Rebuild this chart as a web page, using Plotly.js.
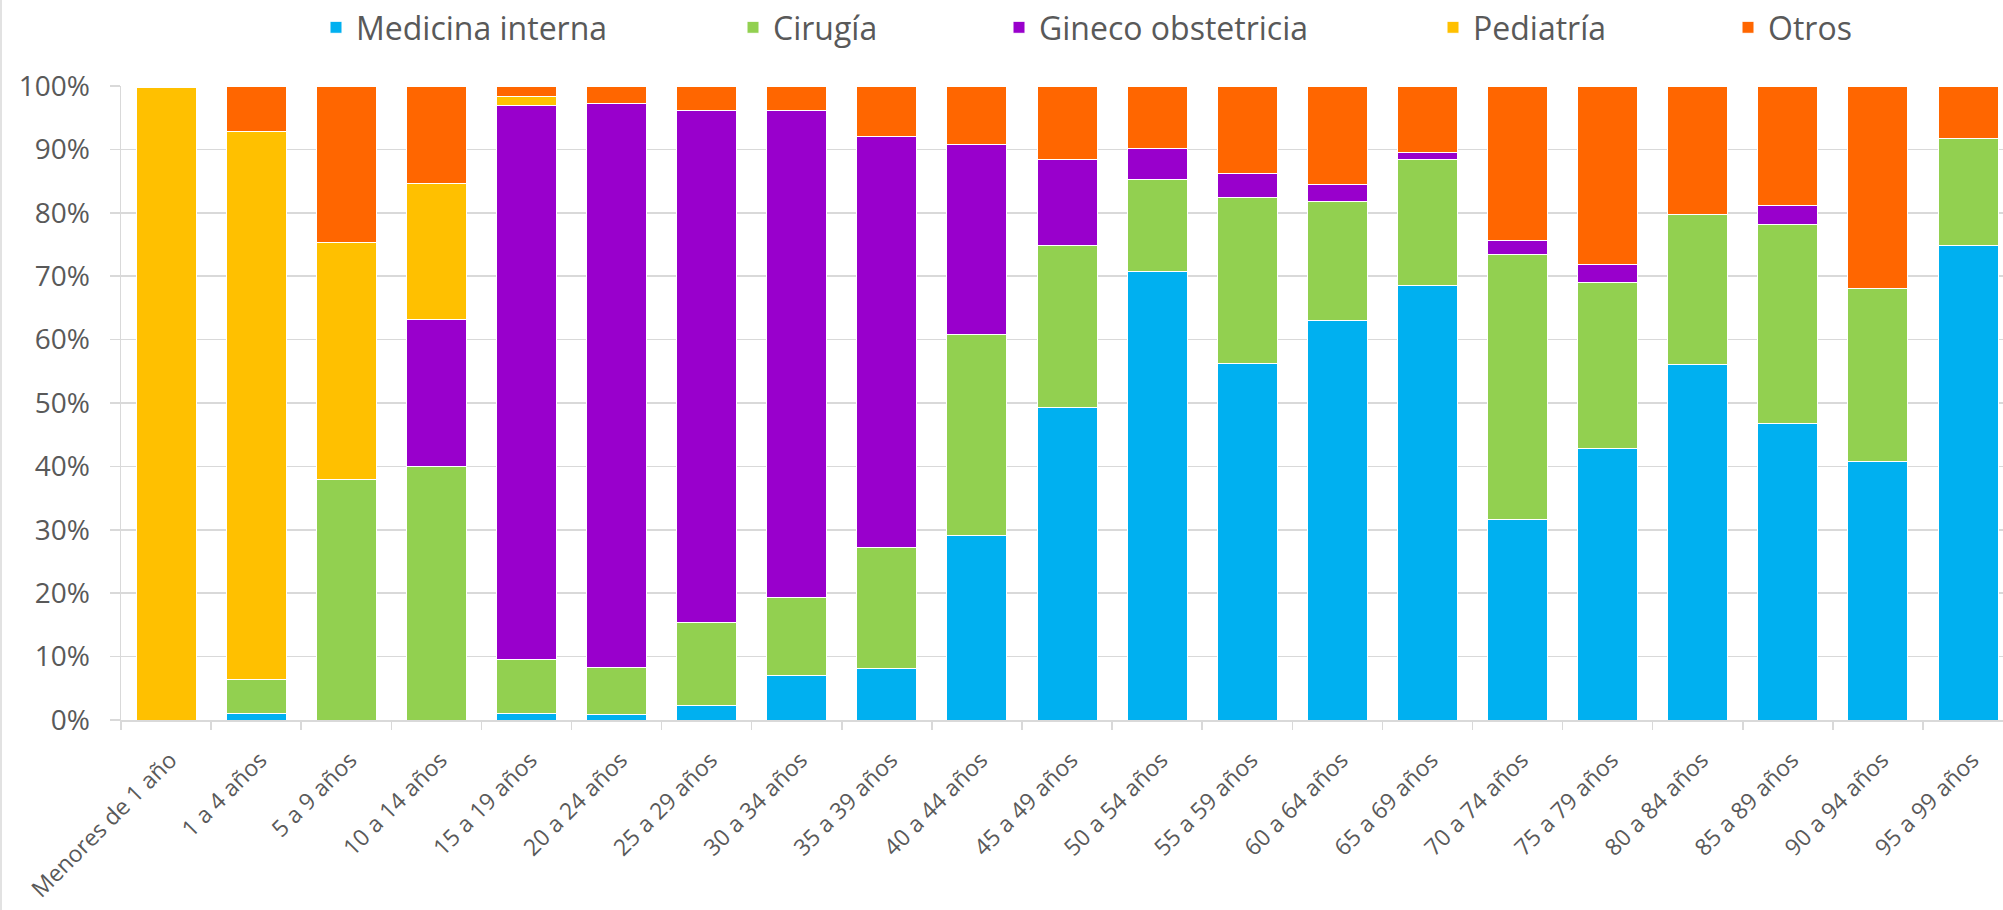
<!DOCTYPE html>
<html>
<head>
<meta charset="utf-8">
<script src="https://cdn.plot.ly/plotly-3.0.1.min.js"></script>
<style>html,body{margin:0;padding:0;background:#fff;}#chart{width:2003px;height:910px;}</style>
</head>
<body>
<div id="chart"></div>
<script>
const categories = ["Menores de 1 año","1 a 4 años","5 a 9 años","10 a 14 años","15 a 19 años","20 a 24 años","25 a 29 años","30 a 34 años","35 a 39 años","40 a 44 años","45 a 49 años","50 a 54 años","55 a 59 años","60 a 64 años","65 a 69 años","70 a 74 años","75 a 79 años","80 a 84 años","85 a 89 años","90 a 94 años","95 a 99 años"];
const medicinaInterna = [0, 1.0, 0, 0, 1.0, 0.8, 2.3, 7.0, 8.1, 29.1, 49.3, 70.7, 56.3, 63.0, 68.6, 31.7, 42.9, 56.0, 46.8, 40.8, 74.9];
const cirugia = [0, 5.4, 37.9, 40.0, 8.6, 7.5, 13.1, 12.3, 19.1, 31.7, 25.5, 14.5, 26.1, 18.8, 19.8, 41.8, 26.1, 23.7, 31.3, 27.3, 16.8];
const ginecoObstetricia = [0, 0, 0, 23.2, 87.3, 89.0, 80.7, 76.8, 64.8, 30.0, 13.6, 5.0, 3.8, 2.7, 1.1, 2.2, 2.9, 0, 3.1, 0, 0];
const pediatria = [99.7, 86.4, 37.4, 21.5, 1.5, 0, 0, 0, 0, 0, 0, 0, 0, 0, 0, 0, 0, 0, 0, 0, 0];
const otros = [0.3, 7.2, 24.7, 15.3, 1.6, 2.7, 3.9, 3.9, 8.0, 9.2, 11.6, 9.8, 13.8, 15.5, 10.5, 24.3, 28.1, 20.3, 18.8, 31.9, 8.3];
const yTicks = [0,10,20,30,40,50,60,70,80,90,100];
const yTickLabels = ["0%","10%","20%","30%","40%","50%","60%","70%","80%","90%","100%"];

const seriesNames = ["Medicina interna","Cirugía","Gineco obstetricia","Pediatría","Otros"];
const seriesValues = [medicinaInterna, cirugia, ginecoObstetricia, pediatria, otros];
const seriesColors = ["#00B0F0","#92D050","#9900CC","#FFC000","#FF6600"];
const legendIds = ["legend","legend2","legend3","legend4","legend5"];

const W = 2003, H = 910;
const mL = 121, mR = 0, mT = 86, mB = 190;
const plotW = W - mL - mR, plotH = H - mT - mB;
const catW = 90.1;
const px2x = p => (p - mL) / plotW;
const px2y = p => (H - mB - p) / plotH;

const traces = seriesNames.map((name, i) => ({
  type: 'bar',
  name: name,
  x: categories,
  y: seriesValues[i],
  marker: {color: seriesColors[i], line: {color: '#ffffff', width: 1}},
  legend: legendIds[i],
  hoverinfo: 'x+y+name'
}));

const legendX = [316, 733, 999, 1433, 1728];
const legendFont = {family: 'Open Sans, sans-serif', size: 32, color: '#595959'};
const layout = {
  width: W, height: H,
  margin: {l: mL, r: mR, t: mT, b: mB, pad: 0},
  paper_bgcolor: '#ffffff', plot_bgcolor: '#ffffff',
  barmode: 'stack',
  bargap: 0.335,
  font: {family: 'Open Sans, sans-serif', color: '#595959'},
  xaxis: {
    type: 'category',
    range: [-0.5, -0.5 + plotW / catW],
    tickson: 'boundaries',
    ticks: 'outside', ticklen: 8, tickcolor: '#d9d9d9', tickwidth: 1.5,
    showline: true, linecolor: '#d9d9d9', linewidth: 1.5,
    showgrid: false,
    tickangle: -45,
    ticklabelstandoff: 16,
    ticklabelshift: 4,
    tickfont: {family: 'Open Sans, sans-serif', size: 23, color: '#595959'},
    automargin: false
  },
  yaxis: {
    range: [0, 100],
    tickmode: 'array',
    tickvals: yTicks,
    ticktext: yTickLabels,
    ticks: 'outside', ticklen: 10, tickcolor: '#d9d9d9', tickwidth: 1.5,
    showline: true, linecolor: '#d9d9d9', linewidth: 1.5,
    showgrid: true, gridcolor: '#d9d9d9', gridwidth: 1.5,
    zeroline: false,
    ticklabelstandoff: 14,
    tickfont: {family: 'Open Sans, sans-serif', size: 28, color: '#595959'},
    automargin: false
  },
  shapes: [{
    type: 'line', xref: 'paper', yref: 'paper',
    x0: px2x(1), x1: px2x(1), y0: px2y(H), y1: px2y(0),
    line: {color: '#d9d9d9', width: 1.5}
  }],
  showlegend: true
};
legendIds.forEach((id, i) => {
  layout[id] = {
    orientation: 'h', x: px2x(legendX[i]), xanchor: 'left',
    y: px2y(0), yanchor: 'top',
    font: legendFont, bgcolor: 'rgba(0,0,0,0)', borderwidth: 0,
    traceorder: 'normal'
  };
});

Plotly.newPlot('chart', traces, layout, {displayModeBar: false, staticPlot: true});
</script>
</body>
</html>
